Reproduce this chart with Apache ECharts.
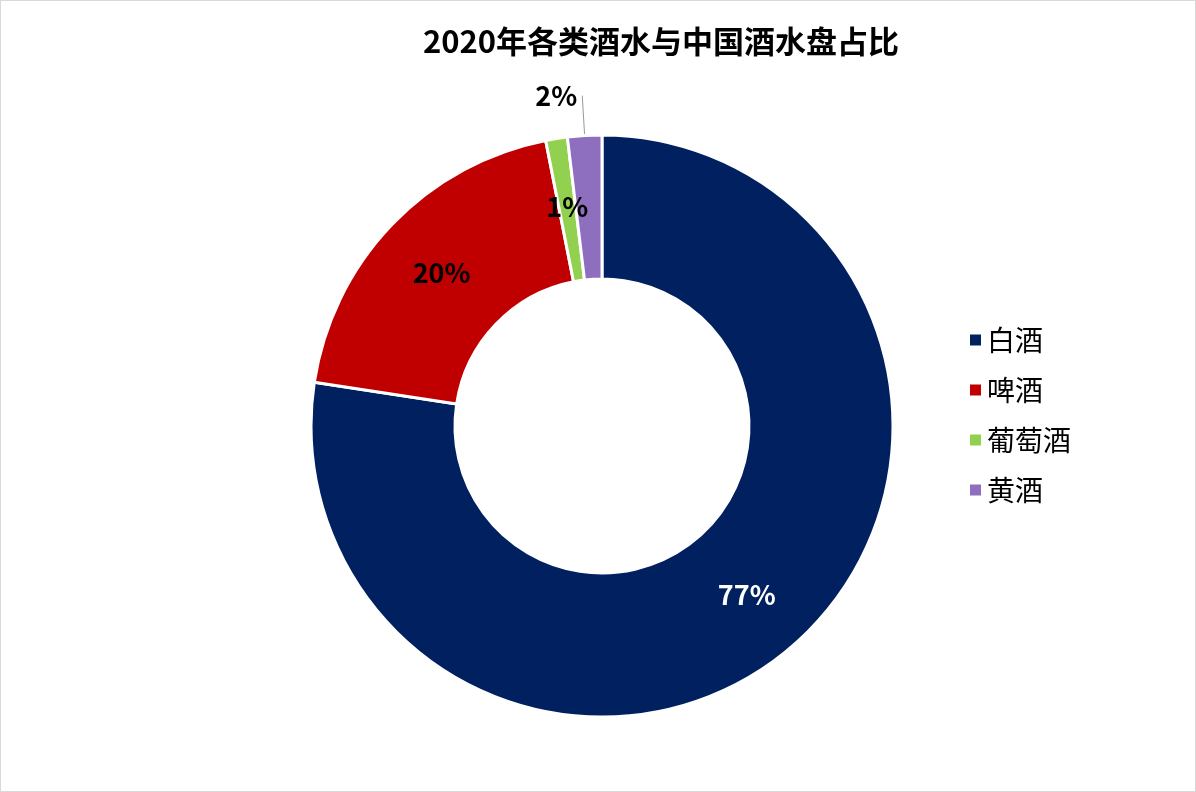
<!DOCTYPE html>
<html>
<head>
<meta charset="utf-8">
<script src="https://cdn.jsdelivr.net/npm/echarts@6/dist/echarts.min.js"></script>
<style>
html,body{margin:0;padding:0;background:#fff;}
#main{width:1194px;height:790px;border:1px solid #d9d9d9;}
</style>
</head>
<body>
<div id="main"></div>
<script>
const categories = ['白酒', '啤酒', '葡萄酒', '黄酒'];
const values = [77.4, 19.5, 1.2, 1.9];
const colors = ['#002060', '#c00000', '#92d050', '#8e6fbf'];

const chart = echarts.init(document.getElementById('main'));
const font = '"Noto Sans CJK SC", sans-serif';
const seriesData = categories.map((name, i) => {
    const item = { name: name, value: values[i], itemStyle: { color: colors[i] } };
    if (i === 0) item.label = { color: '#fff' };
    if (i === 3) item.label = { position: 'outside', color: '#000' };
    if (i === 3) item.labelLine = { show: true, length: 40, length2: 0, lineStyle: { color: '#999' } };
    return item;
});

chart.setOption({
    backgroundColor: '#fff',
    title: {
        text: '2020年各类酒水与中国酒水盘占比',
        left: 655, top: 20, textAlign: 'center',
        textStyle: { fontFamily: font, fontSize: 31, fontWeight: 'bold', color: '#000' }
    },
    legend: {
        orient: 'vertical', left: 962, top: 320,
        itemWidth: 13, itemHeight: 13, itemGap: 22, icon: 'rect',
        textStyle: { fontFamily: font, fontSize: 28, color: '#000' },
        data: categories
    },
    series: [{
        type: 'pie',
        center: [601, 425],
        radius: [147, 291],
        startAngle: 90,
        clockwise: true,
        avoidLabelOverlap: false,
        itemStyle: { borderColor: '#fff', borderWidth: 3 },
        label: {
            show: true, position: 'inside',
            fontFamily: font, fontSize: 27, fontWeight: 'bold', color: '#000',
            formatter: p => Math.round(p.value) + '%'
        },
        labelLine: { show: false },
        data: seriesData
    }]
});
</script>
</body>
</html>
